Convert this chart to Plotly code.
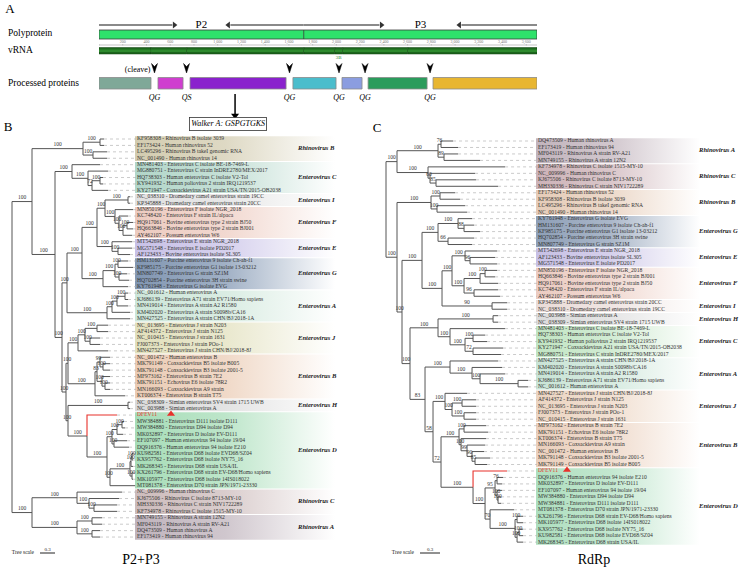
import plotly.graph_objects as go

W, H = 740, 569
SERIF = "Liberation Serif"

# ---------------- Panel A data ----------------
polyprotein_len_nt = 3690
region_names = ["P2", "P3"]
region_start_nt = [0, 1726]
region_end_nt = [1725, 3690]
vrna_segments = ["2A", "2B", "2C", "3A", "3B", "3C", "3D"]
vrna_start_nt = [0, 439, 739, 1726, 1987, 2053, 2602]
vrna_end_nt = [438, 738, 1725, 1986, 2052, 2601, 3690]
protein_labels = ["2A<sup>pro</sup>", "2B", "2C<sup>hel</sup>", "3A", "3B", "3C<sup>pro</sup>", "3D<sup>pol</sup>"]
protein_start_nt = [0, 497, 767, 1634, 2047, 2267, 2814]
protein_end_nt = [438, 708, 1576, 1997, 2216, 2764, 3690]
cleavage_motifs = ["QG", "QS", "QG", "QG", "QG", "QG"]
ruler_ticks_nt = [200, 400, 600, 800, 1000, 1200, 1400, 1600, 1800, 2000,
                  2200, 2400, 2600, 2800, 3000, 3200, 3400, 3600]
helicase_motif = "Walker A: GSPGTGKS"

# ---------------- Leaf descriptions ----------------
leaf_desc = {
    "KF958308": "Rhinovirus B isolate 3039",
    "EF173424": "Human rhinovirus 52",
    "LC495296": "Rhinovirus B takeI genomic RNA",
    "NC_001490": "Human rhinovirus 14",
    "MN481403": "Enterovirus C isolate BE-18-7469-L",
    "MG880751": "Enterovirus C strain InDRE2780/MEX/2017",
    "HQ738303": "Human enterovirus C isolate V2-Tol",
    "KY941932": "Human poliovirus 2 strain IRQ1219537",
    "KY271947": "Coxsackievirus A21 strain USA/TN/2015-OB2038",
    "NC_038310": "Dromedary camel enterovirus strain 19CC",
    "KP345888": "Dromedary camel enterovirus strain 20CC",
    "MN850196": "Enterovirus F isolate NGR_2018",
    "KC748420": "Enterovirus F strain IL/alpaca",
    "HQ917061": "Bovine enterovirus type 2 strain BJ50",
    "HQ663846": "Bovine enterovirus type 2 strain BJ001",
    "AY462107": "Possum enterovirus W6",
    "MT542698": "Enterovirus E strain NGR_2018",
    "MG571548": "Enterovirus E isolate PD2017",
    "AF123433": "Bovine enterovirus isolate SL305",
    "HM131607": "Porcine enterovirus 9 isolate Ch-ah-f1",
    "KF985175": "Porcine enterovirus G1 isolate 13-03212",
    "MN807749": "Enterovirus G strain SZ1M",
    "HQ702854": "Porcine enterovirus 3H strain swine",
    "KY761948": "Enterovirus G isolate EVG",
    "NC_001612": "Human enterovirus A",
    "KJ686139": "Enterovirus A71 strain EV71/Homo sapiens",
    "MN419014": "Enterovirus A strain A2 R1580",
    "KM402020": "Enterovirus A strain S0098b/CA16",
    "MN427525": "Enterovirus A strain CHN/BJ/2018-1A",
    "NC_013695": "Enterovirus J strain N203",
    "AF414372": "Enterovirus J strain N125",
    "NC_010415": "Enterovirus J strain 1631",
    "FJ007373": "Enterovirus J strain POo-1",
    "MN427527": "Enterovirus J strain CHN/BJ/2018-8J",
    "NC_001472": "Human enterovirus B",
    "MK791149": "Coxsackievirus B5 isolate B005",
    "MK791148": "Coxsackievirus B3 isolate 2001-5",
    "MF973162": "Enterovirus B strain 7E2",
    "MK791151": "Echovirus E6 isolate 78R2",
    "MN166093": "Coxsackievirus A9 strain",
    "KT006374": "Enterovirus B strain T75",
    "NC_038309": "Simian enterovirus SV4 strain 1715 UWB",
    "NC_003988": "Simian enterovirus A",
    "MW384881": "Enterovirus D111 isolate D111",
    "MW384880": "Enterovirus D94 isolate D94",
    "MK032897": "Enterovirus D isolate EV-D111",
    "EF107097": "Human enterovirus 94 isolate 19/04",
    "DQ916376": "Human enterovirus 94 isolate E210",
    "KU982581": "Enterovirus D68 isolate EVD68/SZ04",
    "KX957762": "Enterovirus D68 isolate NY75_16",
    "MK268345": "Enterovirus D68 strain USA/IL",
    "KX261796": "Enterovirus D68 strain EV-D68/Homo sapiens",
    "MK105977": "Enterovirus D68 isolate 14IS018022",
    "MT081378": "Enterovirus D70 strain JPN/1971-23330",
    "NC_009996": "Human rhinovirus C",
    "KJ675506": "Rhinovirus C isolate 8713-MY-10",
    "MH330336": "Rhinovirus C strain NIV1722289",
    "KF734978": "Rhinovirus C isolate 1515-MY-10",
    "MN749155": "Rhinovirus A strain 12N2",
    "MF043119": "Rhinovirus A strain RV-A21",
    "DQ473509": "Human rhinovirus A",
    "EF173419": "Human rhinovirus 94",
}
query_leaf = "DFEV11"

clade_members = {
    "Rhinovirus A": ["MN749155", "MF043119", "DQ473509", "EF173419"],
    "Rhinovirus B": ["KF958308", "EF173424", "LC495296", "NC_001490"],
    "Rhinovirus C": ["NC_009996", "KJ675506", "MH330336", "KF734978"],
    "Enterovirus A": ["NC_001612", "KJ686139", "MN419014", "KM402020", "MN427525"],
    "Enterovirus B": ["NC_001472", "MK791149", "MK791148", "MF973162", "MK791151", "MN166093", "KT006374"],
    "Enterovirus C": ["MN481403", "MG880751", "HQ738303", "KY941932", "KY271947"],
    "Enterovirus D": ["DFEV11", "MW384881", "MW384880", "MK032897", "EF107097", "DQ916376",
                      "KU982581", "KX957762", "MK268345", "KX261796", "MK105977", "MT081378"],
    "Enterovirus E": ["MT542698", "MG571548", "AF123433"],
    "Enterovirus F": ["MN850196", "KC748420", "HQ917061", "HQ663846", "AY462107"],
    "Enterovirus G": ["HM131607", "KF985175", "MN807749", "HQ702854", "KY761948"],
    "Enterovirus H": ["NC_038309", "NC_003988"],
    "Enterovirus I": ["NC_038310", "KP345888"],
    "Enterovirus J": ["NC_013695", "AF414372", "NC_010415", "FJ007373", "MN427527"],
}

# ---------------- Tree B (P2+P3), Newick, branch lengths in subst./site ----------------
b_RVB = "((KF958308:0.08,EF173424:0.08)100:0.34,(LC495296:0.28,NC_001490:0.28)100:0.20)100:1.02"
b_EVC = "(MN481403:0.56,(MG880751:0.40,((HQ738303:0.06,KY941932:0.06)100:0.16,KY271947:0.32)72:0.08)100:0.32)100:0.34"
b_I = "(NC_038310:0.04,KP345888:0.04)100:0.46"
b_F = "(MN850196:0.36,(KC748420:0.18,((HQ917061:0.12,HQ663846:0.12)100:0.08,AY462107:0.18)100:0.08)100:0.08)100:0.20"
b_E = "(MT542698:0.40,(MG571548:0.28,AF123433:0.24)100:0.12)100:0.30"
b_G = "(((HM131607:0.20,KF985175:0.30)100:0.06,(MN807749:0.16,HQ702854:0.20)100:0.08)100:0.24,KY761948:0.50)100:0.42"
b_A = "((((NC_001612:0.06,KJ686139:0.06)100:0.16,MN419014:0.22)100:0.10,KM402020:0.36)100:0.10,MN427525:0.46)100:0.80"
b_J = "(((NC_013695:0.22,AF414372:0.22)100:0.24,(NC_010415:0.20,FJ007373:0.20)100:0.10)100:0.14,MN427527:0.60)100:0.20"
b_B = "(((NC_001472:0.20,(MK791149:0.14,MK791148:0.14)100:0.06)99:0.06,(MF973162:0.16,(MK791151:0.10,MN166093:0.10)100:0.06)100:0.10)83:0.04,KT006374:0.60)100:0.54"
b_H = "(NC_038309:0.04,NC_003988:0.04)100:1.20"
b_restD = ("((((MW384881:0.04,MW384880:0.06)100:0.10,MK032897:0.12)100:0.10,(EF107097:0.26,DQ916376:0.30)100:0.04)100:0.10,"
           "((((KU982581:0.02,KX957762:0.02)100:0.02,MK268345:0.04)100:0.02,(KX261796:0.02,MK105977:0.02)100:0.04)100:0.40,MT081378:0.50)100:0.06)100:0.40")
b_D = f"(DFEV11:0.60,{b_restD})100:0.38"
b_RVC = "(NC_009996:0.90,(KJ675506:0.60,(MH330336:0.46,KF734978:0.46)100:0.10)100:0.24)100:0.90"
b_RVA = "((MN749155:0.20,MF043119:0.20)100:0.30,(DQ473509:0.16,EF173419:0.16)100:0.30)100:0.90"
b_IF = f"({b_I},{b_F})100:0.16"
b_IFE = f"({b_IF},{b_E})100:0.30"
b_IFEG = f"({b_IFE},{b_G})100:0.30"
b_IFEGA = f"({b_IFEG},{b_A})100:0.10"
b_JB = f"({b_J},{b_B})100:0.04"
b_HD = f"({b_H},{b_D})100:0.04"
b_JBHD = f"({b_JB},{b_HD})100:0.08"
b_REST = f"({b_IFEGA},{b_JBHD})100:0.14"
b_EV = f"({b_EVC},{b_REST})100:0.46"
b_N1 = f"({b_RVB},{b_EV})100:0.40"
b_RVAC = f"({b_RVC},{b_RVA})100:0.40"
tree_p2p3 = f"({b_N1},{b_RVAC});"

# ---------------- Tree C (RdRp) ----------------
c_RVA = "((DQ473509:0.18,EF173419:0.255)76:0.045,(MF043119:0.21,MN749155:0.54)89:0.09)100:0.615"
c_RVC = "(KF734978:1.155,(NC_009996:0.675,(KJ675506:0.60,MH330336:0.93)85:0.09)60:0.03)100:0.465"
c_RVB = "((EF173424:0.225,KF958308:0.30)100:0.135,(LC495296:0.42,NC_001490:0.45)100:0.09)100:0.51"
c_G = "((KY761948:0.21,(HM131607:0.15,KF985175:0.24)88:0.09)100:0.30,(HQ702854:0.39,MN807749:0.36)66:0.15)100:0.24"
c_E = "(MT542698:0.48,(AF123433:0.375,MG571548:0.405)96:0.075)100:0.195"
c_F = "(((MN850196:0.18,HQ663846:0.15)100:0.075,HQ917061:0.27)100:0.24,(KC748420:0.36,AY462107:0.39)96:0.15)100:0.18"
c_I = "(KP345888:0.225,NC_038310:0.225)90:0.75"
c_H = "(NC_003988:0.075,NC_038309:0.075)100:0.825"
c_C = "(MN481403:0.825,((HQ738303:0.18,KY941932:0.21)100:0.12,(KY271947:0.45,MG880751:0.42)72:0.12)100:0.225)100:0.18"
c_A = "(MN427525:0.72,(KM402020:0.45,(MN419014:0.375,(KJ686139:0.15,NC_001612:0.15)100:0.57)100:0.12)100:0.33)100:0.375"
c_J = "(MN427527:0.33,((AF414372:0.21,NC_013695:0.21)100:0.15,(FJ007373:0.18,NC_010415:0.18)100:0.18)100:0.105)100:0.18"
c_B = "((MF973162:0.33,MK791151:0.36)100:0.075,(KT006374:0.375,(MN166093:0.27,(NC_001472:0.18,(MK791148:0.225,MK791149:0.18)85:0.045)90:0.075)99:0.09)100:0.03)100:0.27"
c_D = ("(DFEV11:0.51,(((DQ916376:0.09,MK032897:0.075)76:0.03,(EF107097:0.075,(MW384880:0.045,MW384881:0.045)100:0.015)100:0.03)95:0.15,"
       "(MT081378:0.36,((KX261796:0.09,MK105977:0.09)100:0.03,((KX957762:0.06,KU982581:0.06)100:0.03,MK268345:0.09)100:0.03)100:0.375)70:0.075)100:0.18)100:0.48")
c_RVAC = f"({c_RVA},{c_RVC})100:0.165"
c_EF = f"({c_E},{c_F})100:0.15"
c_EFI = f"({c_EF},{c_I})100:0.30"
c_GEFI = f"({c_G},{c_EFI})100:0.30"
c_HC = f"({c_H},{c_C})100:0.42"
c_BD = f"({c_B},{c_D})72:0.12"
c_JBD = f"({c_J},{c_BD})58:0.12"
c_AJBD = f"({c_A},{c_JBD})83:0.225"
c_HCAJBD = f"({c_HC},{c_AJBD})100:0.12"
c_EV = f"({c_GEFI},{c_HCAJBD})100:0.075"
c_X = f"({c_RVB},{c_EV})100:0.165"
tree_rdrp = f"({c_RVAC},{c_X});"

scale_bar_len = 0.3

# ---------------- styles ----------------
protein_colors = ["#7fa898", "#cf3fcf", "#8a22cd", "#4bbdcc", "#8b9de0", "#2a9c5c", "#e8b631"]
clade_colors_B = {
    "Rhinovirus B": "#d3ccb0", "Enterovirus C": "#b2d6c9", "Enterovirus I": "#e0e0e0",
    "Enterovirus F": "#edcbc0", "Enterovirus E": "#c8c1e7", "Enterovirus G": "#8196b2",
    "Enterovirus A": "#cde6d9", "Enterovirus J": "#e2e0bd", "Enterovirus B": "#ebccb5",
    "Enterovirus H": "#dadada", "Enterovirus D": "#a7ddb8", "Rhinovirus C": "#cdbcbc",
    "Rhinovirus A": "#c0b4bd",
}
clade_colors_C = {
    "Rhinovirus A": "#c2b4bd", "Rhinovirus C": "#cdb3b8", "Rhinovirus B": "#e6ccb8",
    "Enterovirus G": "#8e9fb7", "Enterovirus E": "#c7c0e5", "Enterovirus F": "#ecccc2",
    "Enterovirus I": "#eadcd8", "Enterovirus H": "#dcdcdc", "Enterovirus C": "#c2e5c4",
    "Enterovirus A": "#c9e4d6", "Enterovirus J": "#ecd5c2", "Enterovirus B": "#ebd0bd",
    "Enterovirus D": "#aedfbf",
}
RED = "#e8312b"
LINE = "#555555"

fig = go.Figure()


def txt(x, y, texts, xa="x", ya="y", size=8, color="#000000", pos="middle center", family=SERIF):
    fig.add_trace(go.Scatter(x=x, y=y, text=texts, mode="text", textposition=pos,
                             textfont=dict(family=family, size=size, color=color),
                             xaxis=xa, yaxis=ya, hoverinfo="skip", cliponaxis=False))


def lines(x, y, xa, ya, color=LINE, width=1.0, dash="solid"):
    fig.add_trace(go.Scatter(x=x, y=y, mode="lines", line=dict(color=color, width=width, dash=dash),
                             xaxis=xa, yaxis=ya, hoverinfo="skip", connectgaps=False))


def heads(x, y, symbols, xa, ya, color, size):
    fig.add_trace(go.Scatter(x=x, y=y, mode="markers", xaxis=xa, yaxis=ya, hoverinfo="skip",
                             cliponaxis=False,
                             marker=dict(symbol=symbols, size=size, color=color, line=dict(width=0))))


# ================= Panel A =================
A_X0, A_X1 = 99, 537
NT_PX = (A_X1 - A_X0) / polyprotein_len_nt


def nt(dpx):
    return dpx / NT_PX


txt([10], [10], ["A"], size=13)
txt([8, 8, 8], [34, 51, 84], ["Polyprotein", "vRNA", "Processed proteins"], size=9.5, pos="middle right")

# P2 / P3 arrows
region_gap_px = [26, 38]
ax_, ay_, hx, hy, hs = [], [], [], [], []
for name, s, e, g in zip(region_names, region_start_nt, region_end_nt, region_gap_px):
    c = (s + e) / 2
    txt([c], [25], [name], xa="x2", size=11)
    ax_ += [s, c - nt(g + 3), None, e, c + nt(g + 3), None]
    ay_ += [25, 25, None, 25, 25, None]
    hx += [c - nt(g + 1), c + nt(g + 1)]
    hy += [25, 25]
    hs += ["triangle-right", "triangle-left"]
lines(ax_, ay_, "x2", "y", color="#8a8a8a", width=1.8)
heads(hx, hy, hs, "x2", "y", "#333333", 6)

# Polyprotein bar
fig.add_shape(type="rect", xref="x2", yref="y", x0=0, x1=polyprotein_len_nt, y0=30, y1=39,
              fillcolor="#2fe26b", line=dict(color="#3c3c3c", width=0.8))
split = region_end_nt[0]
fig.add_shape(type="line", xref="x2", yref="y", x0=split, x1=split, y0=30, y1=39,
              line=dict(color="#3c3c3c", width=0.8))
txt([split - nt(2)], [34.5], ["<b><i>Nonstructural</i></b>"], xa="x2", size=7.5, pos="middle left")
txt([split + nt(5)], [34.5], ["<b><i>proteins</i></b>"], xa="x2", size=7.5, pos="middle right")
chx, chy = [], []
for base, offs in [(0, [2, 6, 10]), (polyprotein_len_nt, [-13, -9, -5])]:
    for o in offs:
        chx += [base + nt(o), base + nt(o + 3), base + nt(o), None]
        chy += [31, 34.5, 38, None]
lines(chx, chy, "x2", "y", color="#1e5e2c", width=1.0)

# Ruler
fig.add_shape(type="line", xref="x2", yref="y", x0=0, x1=polyprotein_len_nt, y0=45, y1=45,
              line=dict(color="#9a9a9a", width=0.6))
tx, ty = [], []
for t in [0] + ruler_ticks_nt:
    tx += [t, t, None]
    ty += [44, 45.5, None]
lines(tx, ty, "x2", "y", color="#9a9a9a", width=0.5)
txt(ruler_ticks_nt, [42.3] * len(ruler_ticks_nt), [f"{t:,}" for t in ruler_ticks_nt], xa="x2",
    size=4, color="#777777")

# vRNA bar
for seg, s, e in zip(vrna_segments, vrna_start_nt, vrna_end_nt):
    fig.add_shape(type="rect", xref="x2", yref="y", x0=s, x1=e, y0=47.5, y1=54,
                  fillcolor="#1c661c", line=dict(color="#0f3f0f", width=0.5))
    fig.add_shape(type="rect", xref="x2", yref="y", x0=s, x1=e, y0=49.5, y1=52,
                  fillcolor="#2d8a2d", line=dict(width=0))
lab_segs = [(sg, (s + e) / 2) for sg, s, e in zip(vrna_segments, vrna_start_nt, vrna_end_nt) if sg != "3B"]
txt([p for _, p in lab_segs], [50.8] * len(lab_segs), [sg for sg, _ in lab_segs], xa="x2", size=4.5,
    color="#a8dca8")
i3b = vrna_segments.index("3B")
txt([(vrna_start_nt[i3b] + vrna_end_nt[i3b]) / 2], [57.5], ["3B"], xa="x2", size=5, color="#2f8a2f")

# Processed proteins
for lab, s, e, col in zip(protein_labels, protein_start_nt, protein_end_nt, protein_colors):
    fig.add_shape(type="rect", xref="x2", yref="y", x0=s, x1=e, y0=77.5, y1=89,
                  fillcolor=col, line=dict(color="#8a8a8a", width=0.8))
txt([(s + e) / 2 for s, e in zip(protein_start_nt, protein_end_nt)], [83.3] * 7, protein_labels,
    xa="x2", size=9.5, color="#111111")

# Cleavage sites
cuts = [(protein_end_nt[i] + protein_start_nt[i + 1]) / 2 for i in range(len(protein_end_nt) - 1)]
hw = nt(3.0)
for cx in cuts:
    path = f"M {cx - hw},63.5 L {cx},73 L {cx + hw},63.5 L {cx},66.5 Z"
    fig.add_shape(type="path", xref="x2", yref="y", path=path, fillcolor="black",
                  line=dict(color="black", width=0.5))
txt([cuts[0] - nt(4)], [70], ["(cleave)"], xa="x2", size=8, color="black", pos="middle left")
txt(cuts, [97.5] * len(cuts), [f"<i>{m}</i>" for m in cleavage_motifs], xa="x2", size=8, color="black")

# Walker A
c2 = (protein_start_nt[2] + protein_end_nt[2]) / 2 - nt(3)
lines([c2, c2], [94, 114], "x2", "y", color="black", width=1.5)
heads([c2], [115.5], ["triangle-down"], "x2", "y", "black", 7)
fig.add_annotation(x=c2 - nt(7), y=124, xref="x2", yref="y", text=f"<i>{helicase_motif}</i>",
                   showarrow=False, font=dict(family=SERIF, size=8, color="black"),
                   bordercolor="#333333", borderwidth=0.8, borderpad=1.5, bgcolor="white")


# ================= Trees =================
def parse_newick(s):
    s = s.strip().rstrip(";")
    pos = 0

    def node():
        nonlocal pos
        n = {"children": [], "name": "", "len": 0.0}
        if s[pos] == "(":
            pos += 1
            while True:
                n["children"].append(node())
                if s[pos] == ",":
                    pos += 1
                    continue
                pos += 1
                break
        st = pos
        while pos < len(s) and s[pos] not in ":,()":
            pos += 1
        n["name"] = s[st:pos]
        if pos < len(s) and s[pos] == ":":
            pos += 1
            st = pos
            while pos < len(s) and s[pos] not in ",()":
                pos += 1
            n["len"] = float(s[st:pos])
        return n

    return node()


def layout_tree(newick):
    root = parse_newick(newick)
    root["len"] = 0.0
    leaves = []

    def lay(n, x0):
        n["x"] = x0 + n["len"]
        if n["children"]:
            for c in n["children"]:
                lay(c, n["x"])
            n["y"] = (n["children"][0]["y"] + n["children"][-1]["y"]) / 2
        else:
            n["y"] = len(leaves)
            leaves.append(n)

    lay(root, 0.0)
    return root, leaves


def draw_tree(newick, xa, ya, root_px, ppu, row0, step, label_px, clade_px, fade_px, colors,
              tri_px, scale_px, scale_py):
    def U(px):
        return (px - root_px) / ppu

    def R(py):
        return (py - row0) / step

    fig.update_layout(**{
        ("xaxis" + xa[1:]): dict(domain=[0, 1], range=[U(0), U(W)], visible=False, fixedrange=True, anchor=ya),
        ("yaxis" + ya[1:]): dict(domain=[0, 1], range=[R(H), R(0)], visible=False, fixedrange=True, anchor=xa),
    })
    root, leaves = layout_tree(newick)
    names = [l["name"] for l in leaves]

    # clade bands
    for clade, members in clade_members.items():
        rows = [names.index(m) for m in members]
        y0, y1 = min(rows) - 0.5 + 0.08, max(rows) + 0.5 - 0.08
        x0, x1 = U(label_px - 2), U(fade_px)
        col = colors[clade]
        r, g, b = int(col[1:3], 16), int(col[3:5], 16), int(col[5:7], 16)
        fig.add_trace(go.Scatter(
            x=[x0, x1, x1, x0, x0], y=[y0, y0, y1, y1, y0], mode="lines", fill="toself",
            line=dict(width=0), xaxis=xa, yaxis=ya, hoverinfo="skip",
            fillgradient=dict(type="horizontal", start=x0, stop=x1,
                              colorscale=[[0, f"rgba({r},{g},{b},1)"], [0.45, f"rgba({r},{g},{b},0.75)"],
                                          [1, f"rgba({r},{g},{b},0)"]])))
        txt([U(clade_px)], [(min(rows) + max(rows)) / 2], [f"<b><i>{clade}</i></b>"], xa=xa, ya=ya,
            size=6.6, color="#222222", pos="middle right")

    # leaders
    lx, ly = [], []
    for l in leaves:
        lx += [l["x"], U(label_px - 1), None]
        ly += [l["y"], l["y"], None]
    lines(lx, ly, xa, ya, color="#b5b5b5", width=0.7, dash="dot")

    # branches
    bx, by, rx, ry, bs = [], [], [], [], []
    stack = [root]
    while stack:
        n = stack.pop()
        if not n["children"]:
            continue
        ys = [n["y"]]
        for c in n["children"]:
            if not c["children"] and c["name"] == query_leaf:
                rx += [n["x"], n["x"], c["x"], None]
                ry += [n["y"], c["y"], c["y"], None]
            else:
                ys.append(c["y"])
                bx += [n["x"], c["x"], None]
                by += [c["y"], c["y"], None]
            if c["children"] and c["name"]:
                bs.append(((n["x"] + c["x"]) / 2, c["y"] - 0.55, c["name"]))
            stack.append(c)
        bx += [n["x"], n["x"], None]
        by += [min(ys), max(ys), None]
    lines(bx, by, xa, ya, color=LINE, width=1.0)
    lines(rx, ry, xa, ya, color=RED, width=1.1)
    txt([b[0] for b in bs], [b[1] for b in bs], [b[2] for b in bs], xa=xa, ya=ya, size=5.5, color="#333333")

    # leaf labels
    lt, lc = [], []
    for l in leaves:
        if l["name"] == query_leaf:
            lt.append(l["name"])
            lc.append(RED)
        else:
            lt.append(f"{l['name']} - {leaf_desc[l['name']]}")
            lc.append("#333333")
    txt([U(label_px)] * len(leaves), [l["y"] for l in leaves], lt, xa=xa, ya=ya, size=5.6, color=lc,
        pos="middle right")
    qi = names.index(query_leaf)
    heads([U(tri_px)], [qi - 0.15], ["triangle-up"], xa, ya, RED, 7)

    # scale bar
    sx0 = U(scale_px)
    lines([sx0, sx0 + scale_bar_len], [R(scale_py)] * 2, xa, ya, color="#222222", width=1.0)
    txt([sx0 + scale_bar_len / 2], [R(scale_py - 3.5)], [f"{scale_bar_len}"], xa=xa, ya=ya, size=5,
        color="#222222")
    txt([U(scale_px - 6)], [R(scale_py)], ["Tree scale"], xa=xa, ya=ya, size=5.5,
        color="#222222", pos="middle left")


draw_tree(tree_p2p3, "x3", "y3", root_px=12, ppu=50, row0=139, step=6.42, label_px=137, clade_px=298,
          fade_px=335, colors=clade_colors_B, tri_px=171, scale_px=40, scale_py=553)
draw_tree(tree_rdrp, "x4", "y4", root_px=386, ppu=66.7, row0=141, step=6.47, label_px=538, clade_px=699,
          fade_px=700, colors=clade_colors_C, tri_px=567, scale_px=420, scale_py=553)

# panel letters & titles
txt([8, 377], [128, 129], ["B", "C"], size=13)
txt([141, 594], [560, 560], ["P2+P3", "RdRp"], size=14)

fig.update_layout(
    width=W, height=H, margin=dict(l=0, r=0, t=0, b=0), showlegend=False,
    paper_bgcolor="white", plot_bgcolor="rgba(0,0,0,0)",
    xaxis=dict(domain=[0, 1], range=[0, W], visible=False, fixedrange=True, anchor="y"),
    yaxis=dict(domain=[0, 1], range=[H, 0], visible=False, fixedrange=True, anchor="x"),
    xaxis2=dict(domain=[A_X0 / W, A_X1 / W], range=[0, polyprotein_len_nt], visible=False,
                fixedrange=True, anchor="y"),
)
fig.write_html("out.html", config={"displayModeBar": False},
               post_script="document.body.style.margin='0';document.body.style.overflow='hidden';")
